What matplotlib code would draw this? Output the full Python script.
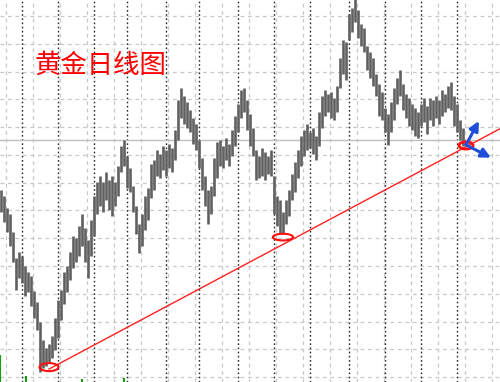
import matplotlib
matplotlib.use("Agg")
import matplotlib.pyplot as plt
from matplotlib.patches import Ellipse
import numpy as np

plt.rcParams['font.family'] = ['Noto Sans CJK SC', 'DejaVu Sans']

# 日线最高价 / 最低价
highs = [1277.4, 1275.2, 1270.9, 1268.7, 1262.2, 1252.9, 1255.0, 1253.6, 1250.0, 1247.8,
         1246.4, 1241.0, 1237.0, 1229.8, 1223.4, 1220.5, 1221.9, 1224.8, 1231.3, 1237.8,
         1241.4, 1247.8, 1250.0, 1255.0, 1260.8, 1260.1, 1264.4, 1268.7, 1263.7, 1259.4,
         1266.6, 1275.2, 1280.2, 1282.4, 1280.2, 1283.8, 1281.0, 1282.4, 1280.2, 1286.0,
         1293.2, 1295.4, 1289.6, 1285.3, 1278.8, 1271.6, 1265.1, 1268.7, 1275.2, 1278.1,
         1286.7, 1288.2, 1291.8, 1290.3, 1293.2, 1291.8, 1293.9, 1292.5, 1299.0, 1309.8,
         1314.1, 1311.2, 1309.0, 1306.2, 1303.3, 1301.1, 1295.4, 1288.9, 1282.4, 1277.4,
         1278.8, 1288.9, 1294.6, 1295.4, 1293.2, 1296.1, 1293.9, 1299.0, 1304.0, 1308.3,
         1313.4, 1314.1, 1309.8, 1304.7, 1299.7, 1291.8, 1289.6, 1292.5, 1291.0, 1289.6,
         1291.8, 1282.4, 1275.2, 1273.8, 1269.4, 1273.8, 1277.4, 1283.1, 1287.4, 1291.8,
         1296.8, 1299.0, 1301.1, 1298.2, 1299.7, 1296.8, 1305.4, 1311.2, 1313.4, 1311.9,
         1312.6, 1310.5, 1314.8, 1324.9, 1331.4, 1330.6, 1340.7, 1342.9, 1347.2, 1342.2,
         1337.1, 1335.7, 1329.2, 1327.0, 1324.9, 1319.1, 1315.5, 1312.6, 1306.9, 1304.7,
         1309.0, 1314.1, 1317.7, 1320.6, 1315.5, 1311.9, 1310.5, 1308.3, 1306.9, 1305.4,
         1308.3, 1310.5, 1307.6, 1310.5, 1309.8, 1311.2, 1309.8, 1313.4, 1311.9, 1314.8,
         1316.2, 1311.2, 1308.3, 1302.6, 1299.7]
lows = [1269.4, 1265.8, 1262.2, 1257.2, 1251.4, 1241.4, 1245.7, 1243.9, 1239.2, 1240.6,
        1235.6, 1231.3, 1227.0, 1211.8, 1213.3, 1214.0, 1215.4, 1216.9, 1219.8, 1224.1,
        1230.6, 1236.3, 1240.6, 1245.0, 1249.3, 1251.4, 1253.6, 1257.2, 1251.4, 1245.7,
        1253.6, 1260.8, 1268.7, 1271.6, 1269.4, 1273.8, 1270.2, 1268.0, 1271.6, 1275.2,
        1283.8, 1286.0, 1278.1, 1276.6, 1269.4, 1261.5, 1254.7, 1257.2, 1263.0, 1266.6,
        1274.5, 1277.4, 1282.4, 1281.7, 1284.6, 1282.4, 1285.3, 1283.8, 1288.2, 1295.4,
        1303.3, 1301.1, 1299.7, 1298.2, 1293.9, 1291.8, 1285.3, 1277.4, 1271.6, 1265.1,
        1268.7, 1275.2, 1281.7, 1286.0, 1285.3, 1288.2, 1286.0, 1289.6, 1293.2, 1298.2,
        1303.3, 1305.4, 1299.0, 1293.2, 1289.6, 1281.0, 1281.7, 1282.4, 1281.0, 1283.1,
        1282.4, 1268.7, 1264.4, 1261.9, 1261.5, 1265.1, 1268.0, 1273.8, 1276.6, 1281.7,
        1286.0, 1289.6, 1291.8, 1292.5, 1290.3, 1288.2, 1293.2, 1299.7, 1304.0, 1305.4,
        1303.3, 1302.6, 1305.4, 1314.1, 1319.1, 1317.0, 1331.4, 1334.2, 1337.8, 1332.1,
        1329.2, 1327.0, 1320.6, 1317.7, 1314.8, 1311.2, 1304.0, 1302.6, 1298.2, 1293.6,
        1298.2, 1302.6, 1308.3, 1311.2, 1306.2, 1303.3, 1300.4, 1299.0, 1296.8, 1296.1,
        1300.4, 1301.8, 1297.5, 1302.6, 1300.4, 1303.3, 1301.1, 1304.0, 1305.4, 1306.9,
        1306.2, 1300.4, 1298.2, 1295.4, 1293.2]

# 月份分隔线所在K线序号
month_sep = [7, 19, 31, 42, 55, 66, 79, 91, 103, 116, 128, 140, 152]

# 趋势线两个锚点
trend_idx = [16, 155]
trend_price = [1212.9, 1292.9]

# 三个低点标记
marks_idx = [16, 94, 155]
marks_price = [1213.6, 1260.4, 1293.4]

# 当前价格水平线
bid_price = 1295.4

# 底部副图(成交量)露出的部分
vol_idx = [-0.2, 8.2, 27, 41]
vol_top = [1217.9, 1210.4, 1209.3, 1209.7]

x = np.arange(len(highs))

fig = plt.figure(figsize=(5, 3.82), dpi=100)
ax = fig.add_axes([0, 0, 1, 1])
ax.set_xlim(-0.33, 166.33)
ax.set_ylim(1208.24, 1345.76)
ax.axis('off')

# 网格
for p in np.arange(1210, 1341, 10):
    ax.axhline(p, color='#c8c8c8', lw=0.9, ls=(0, (3, 3)), zorder=0)
for gx in np.arange(1.77, 167, 9):
    ax.axvline(gx, color='#c8c8c8', lw=0.9, ls=(0, (3, 3)), zorder=0)
for s in month_sep:
    ax.axvline(s, color='#2a2a2a', lw=1, ls=(0, (1.2, 1.8)), zorder=1)

ax.axhline(bid_price, color='#c0c0c0', lw=1, zorder=1)

# K线
ax.vlines(x, lows, highs, color='#606060', lw=1.9, zorder=3)

# 成交量
ax.vlines(vol_idx, 1208.24, vol_top, color='#10a010', lw=1.5, zorder=2)

# 趋势线
k = (trend_price[1] - trend_price[0]) / (trend_idx[1] - trend_idx[0])
tx = np.array([trend_idx[0], 166.33])
ax.plot(tx, trend_price[0] + k * (tx - trend_idx[0]), color='#ff2020', lw=1, zorder=4)

# 低点圈
sizes = [(6.3, 2.9, 1.5), (6.7, 2.4, 1.5), (4.7, 2.6, 2.0)]
for xi, pi, (w, h, lw) in zip(marks_idx, marks_price, sizes):
    ax.add_patch(Ellipse((xi, pi), w, h, fill=False, ec='#ff1010', lw=lw, zorder=5))

# 蓝色箭头
for tip in [(159.3, 1302.2), (163.3, 1289.0)]:
    ax.annotate('', xy=tip, xytext=(155, 1293.6),
                arrowprops=dict(arrowstyle='-|>', color='#1f4fd8', lw=2.2,
                                mutation_scale=14, shrinkA=0, shrinkB=0),
                zorder=6)

ax.text(0.07, 0.829, '黄金日线图', transform=ax.transAxes, color='#ff0000',
        fontsize=19, fontweight='light', ha='left', va='center')

fig.savefig('out.png', dpi=100)
